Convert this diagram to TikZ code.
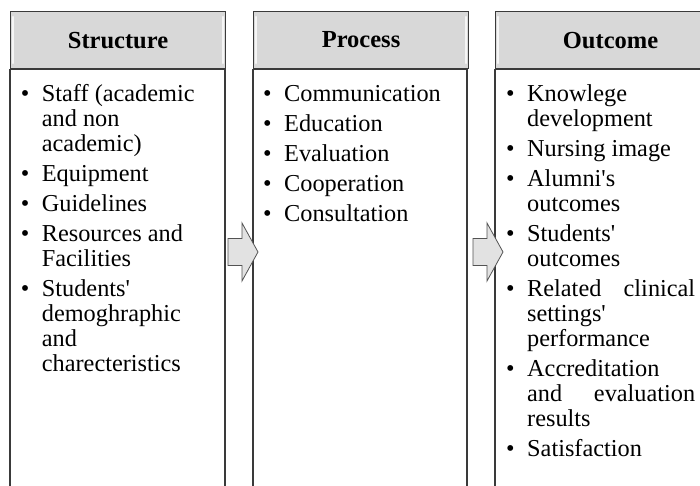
\documentclass[tikz,border=0pt]{standalone}
\usepackage{fontspec}
\setmainfont{Liberation Serif}
\usetikzlibrary{positioning}

\definecolor{boxline}{HTML}{3A3A3A}
\definecolor{headgray}{HTML}{D8D8D8}
\definecolor{arrowgray}{HTML}{E2E2E2}

% hollow block arrow, drawn back from its tip
\newcommand{\blockarrow}[1]{%
  \draw[arrowbox] (#1) -- ++(-16,29) -- ++(0,-15.5) -- ++(-14,0)
    -- ++(0,-27) -- ++(14,0) -- ++(0,-15.5) -- cycle;}
% straight apostrophe
\newcommand{\q}{\textquotesingle}

\begin{document}
\begin{tikzpicture}[x=1pt,y=1pt,
    header/.style={draw=boxline, line width=1.1pt, fill=headgray,
      minimum width=215pt, minimum height=57pt, inner sep=0pt,
      anchor=north west, font=\fontsize{24.5}{25}\selectfont\bfseries},
    bevel/.style={white, line width=2pt, opacity=0.75, line cap=round},
    body/.style={draw=boxline, line width=1.1pt, fill=white},
    list/.style={anchor=base west, inner sep=0pt,
      font=\fontsize{24.3}{25}\selectfont},
    arrowbox/.style={draw=gray!65!black, line width=0.8pt,
      fill=arrowgray, line join=miter}]
    \useasboundingbox (0,0) rectangle (700,486);
    \clip (0,0) rectangle (700,486);

    % column headers
    \node[header] (structure) at (10,475) {Structure};
    \node[header] (process) at (253,475) {Process};
    \node[header, minimum width=230pt] (outcome) at (495,475) {Outcome};

    \foreach \col in {structure,process,outcome} {
        \draw[bevel] ([shift={(3,6)}]\col.south west) -- ([shift={(3,-6)}]\col.north west);
        \draw[bevel] ([shift={(-3,6)}]\col.south east) -- ([shift={(-3,-6)}]\col.north east);
    }

    % column bodies
    \draw[body] (structure.south west) rectangle ++(215,-440);
    \draw[body] (process.south west) rectangle ++(214,-440);
    \draw[body] (outcome.south west) rectangle ++(230,-440);

    \node[list] (structlist) at (20.7,384.5) {%
        \begin{tabular}[t]{@{}p{21pt}@{}l@{}}
        \textbullet & Staff (academic\\
         & and non\\
         & academic)\\[5pt]
        \textbullet & Equipment\\[5pt]
        \textbullet & Guidelines\\[5pt]
        \textbullet & Resources and\\
         & Facilities\\[5pt]
        \textbullet & Students\q\\
         & demoghraphic\\
         & and\\
         & charecteristics\\
        \end{tabular}};

    \node[list] (processlist) at (263,384.5) {%
        \begin{tabular}[t]{@{}p{21pt}@{}l@{}}
        \textbullet & Communication\\[5pt]
        \textbullet & Education\\[5pt]
        \textbullet & Evaluation\\[5pt]
        \textbullet & Cooperation\\[5pt]
        \textbullet & Consultation\\
        \end{tabular}};

    \node[list] (outcomelist) at (506,384.5) {%
        \begin{tabular}[t]{@{}p{21pt}@{}l@{}}
        \textbullet & Knowlege\\
         & development\\[5pt]
        \textbullet & Nursing image\\[5pt]
        \textbullet & Alumni\q s\\
         & outcomes\\[5pt]
        \textbullet & Students\q\\
         & outcomes\\[5pt]
        \textbullet & \makebox[168pt][s]{Related clinical}\\
         & settings\q\\
         & performance\\[5pt]
        \textbullet & Accreditation\\
         & \makebox[168pt][s]{and evaluation}\\
         & results\\[5pt]
        \textbullet & Satisfaction\\
        \end{tabular}};

    % arrows between the columns
    \coordinate (tip1) at (258,234);
    \coordinate (tip2) at (503,234);
    \blockarrow{tip1}
    \blockarrow{tip2}
\end{tikzpicture}
\end{document}
